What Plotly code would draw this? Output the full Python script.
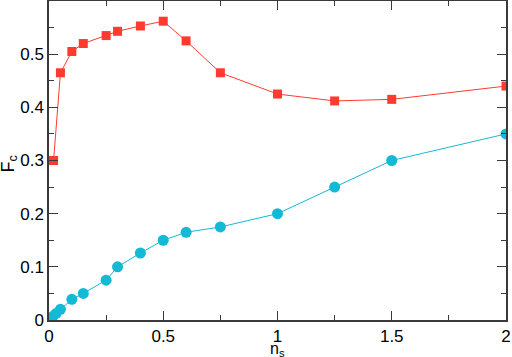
import plotly.graph_objects as go

# Red squares series
x_red = [0, 0.02, 0.05, 0.1, 0.15, 0.25, 0.3, 0.4, 0.5, 0.6, 0.75, 1.0, 1.25, 1.5, 2.0]
y_red = [0.30, 0.30, 0.465, 0.505, 0.52, 0.535, 0.543, 0.553, 0.562, 0.525, 0.465, 0.425, 0.412, 0.415, 0.44]

# Cyan circles series
x_blue = [0, 0.015, 0.03, 0.05, 0.1, 0.15, 0.25, 0.3, 0.4, 0.5, 0.6, 0.75, 1.0, 1.25, 1.5, 2.0]
y_blue = [0.0, 0.006, 0.012, 0.02, 0.039, 0.05, 0.075, 0.10, 0.126, 0.15, 0.165, 0.175, 0.20, 0.25, 0.30, 0.35]

x_ticks = [0, 0.5, 1, 1.5, 2]
x_ticklabels = ["0", "0.5", "1", "1.5", "2"]
y_ticks = [0, 0.1, 0.2, 0.3, 0.4, 0.5]
y_ticklabels = ["0", "0.1", "0.2", "0.3", "0.4", "0.5"]
x_title = "n<sub>s</sub>"
y_title = "F<sub>c</sub>"

RED = "#ff3b2f"
CYAN = "#13bad5"
AX = "#3a3a3a"
FONT = "Liberation Sans, Arial, sans-serif"

fig = go.Figure()
fig.add_trace(go.Scatter(x=x_blue, y=y_blue, mode="lines+markers",
                         line=dict(color=CYAN, width=1),
                         marker=dict(symbol="circle", size=11, color=CYAN),
                         showlegend=False, hoverinfo="skip"))
fig.add_trace(go.Scatter(x=x_red, y=y_red, mode="lines+markers",
                         line=dict(color=RED, width=1),
                         marker=dict(symbol="square", size=9, color=RED),
                         showlegend=False, hoverinfo="skip"))

axis_common = dict(showgrid=False, zeroline=False, showline=True, linecolor=AX,
                   linewidth=1.5, mirror="allticks", ticks="inside", ticklen=9,
                   tickwidth=1.2, tickcolor=AX, automargin=False,
                   tickfont=dict(family=FONT, size=17, color="black"))

fig.update_xaxes(range=[0, 2], tickvals=x_ticks, ticktext=x_ticklabels,
                 minor=dict(ticks="inside", ticklen=5, tickwidth=1.2, tickcolor=AX, dtick=0.25, tick0=0),
                 ticklabelstandoff=0,
                 **axis_common)
fig.update_yaxes(range=[0, 0.6], tickvals=y_ticks, ticktext=y_ticklabels,
                 minor=dict(ticks="inside", ticklen=5, tickwidth=1.2, tickcolor=AX, dtick=0.05, tick0=0),
                 ticklabelstandoff=0,
                 **axis_common)

fig.add_annotation(text=x_title, xref="paper", yref="paper", x=0.5, y=0,
                   xanchor="center", yanchor="middle", yshift=-29, showarrow=False,
                   font=dict(family=FONT, size=16, color="black"))
fig.add_annotation(text=y_title, xref="paper", yref="paper", x=0, y=0.5,
                   xanchor="center", yanchor="middle", xshift=-40, yshift=-4, textangle=-90,
                   showarrow=False, font=dict(family=FONT, size=18, color="black"))

fig.update_layout(width=512, height=357, margin=dict(l=49, r=6, t=1, b=37),
                  plot_bgcolor="white", paper_bgcolor="white")

fig.write_html("out.html", config={"displayModeBar": False},
               post_script="document.body.style.margin='0';")
